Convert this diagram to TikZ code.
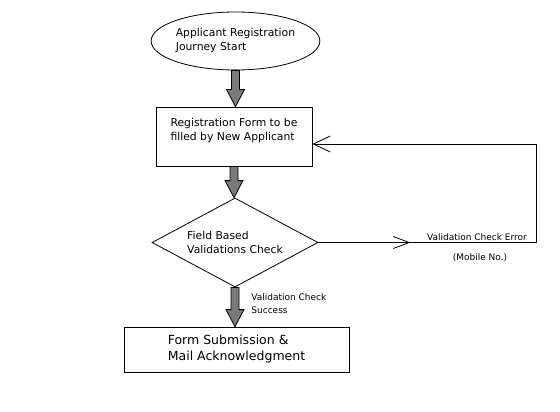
\documentclass[tikz,border=0pt]{standalone}
\usepackage{fontspec}
\setmainfont{DejaVu Sans}
\usetikzlibrary{shapes.geometric,arrows.meta,calc,decorations.markings}

\begin{document}
\begin{tikzpicture}[x=1pt,y=-1pt, line width=0.8pt,
  txt/.style={font=\fontsize{10.8}{14}\selectfont, align=left, inner sep=0pt},
  box/.style={draw, rectangle, txt},
  lbl/.style={font=\fontsize{9}{13}\selectfont, align=left, inner sep=0pt},
  blockarrow/.style={draw=black, fill=black!52, to path={
    let \p1=(\tikztostart), \p2=(\tikztotarget) in
    (\x1-4pt,\y1) -- (\x1-4pt,\y2+17pt) -- (\x1-9pt,\y2+17pt) -- (\x1,\y2)
    -- (\x1+9pt,\y2+17pt) -- (\x1+4pt,\y2+17pt) -- (\x1+4pt,\y1) -- cycle}},
  barb/.style={-{Straight Barb[length=17pt,width=16pt]}}]
\useasboundingbox (0,0) rectangle (560,412);

% boxes
\node[draw, ellipse, txt, minimum width=159pt, minimum height=58pt] (start) at (235.5,41) {Applicant Registration\\Journey Start};
\node[box, minimum width=156pt, minimum height=59pt, text depth=15pt] (form) at (234,136.5) {Registration Form to be\\filled by New Applicant};
\node[draw, diamond, txt, aspect=1.87, minimum width=166pt, minimum height=89pt] (check) at (235,242.5) {Field Based\\Validations Check};
\node[box, minimum width=225pt, minimum height=45pt, font=\fontsize{12.5}{16}\selectfont] (submit) at (236.5,349.5) {Form Submission \&\\Mail Acknowledgment};

% main flow
\draw[blockarrow] (start.south) to (form.north);
\draw[blockarrow] (form.south) to (check.north);
\draw[blockarrow] (check.south) to (submit.north);

% error loop
\coordinate (errturn) at (536,144);
\draw[barb, postaction={decorate, decoration={markings,
    mark=at position 92pt with {\arrow{Straight Barb[length=16pt,width=12pt]}}}}]
  (check.east) -- (check.east -| errturn) -- (errturn) -- (errturn -| form.east);

% labels
\node[lbl] (errlbl) at (477,237) {Validation Check Error};
\node[lbl] (mobilelbl) at (480,258) {(Mobile No.)};
\node[lbl, anchor=west] (oklbl) at (251,304) {Validation Check\\Success};
\end{tikzpicture}
\end{document}
